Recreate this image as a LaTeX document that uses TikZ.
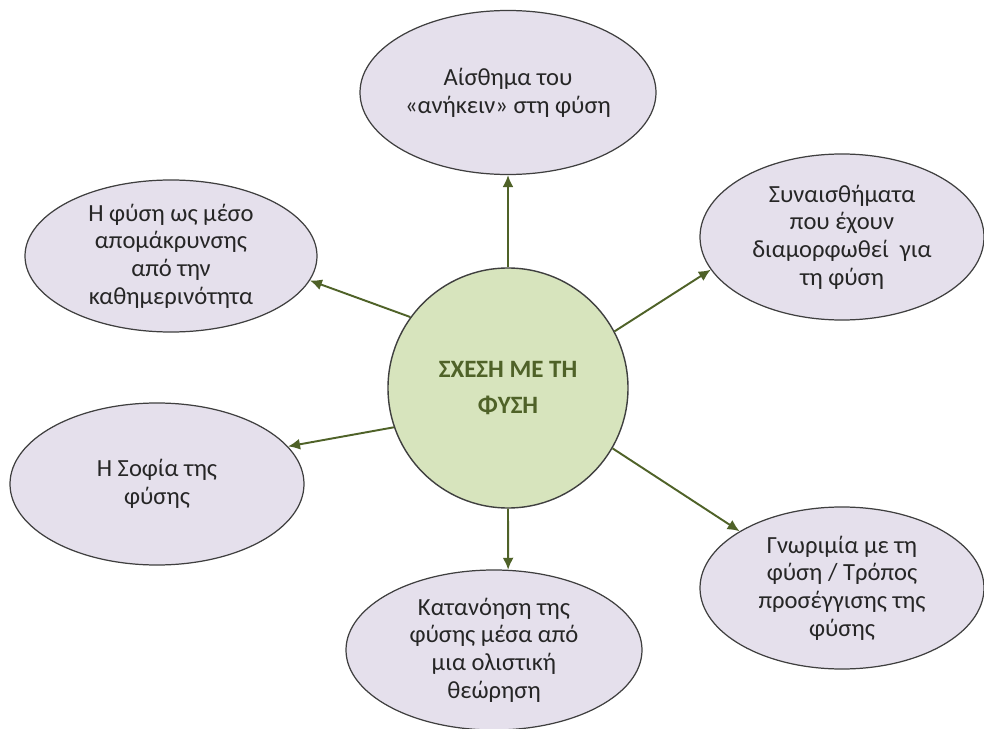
\documentclass[tikz,border=0pt]{standalone}
\usepackage{fontspec}
\setmainfont{Carlito}
\usepackage{xcolor}
\usetikzlibrary{shapes,arrows.meta}

\definecolor{leafgreen}{HTML}{D7E4BD}
\definecolor{darkolive}{HTML}{4F6228}
\definecolor{lavender}{HTML}{E5E0EC}
\definecolor{rimgray}{HTML}{3F3F3F}

\tikzset{
  topic/.style={ellipse, draw=rimgray, line width=0.7pt, fill=lavender, align=center,
    inner sep=0pt, font=\fontsize{14}{15.8}\selectfont, text=black!85},
  hub/.style={circle, draw=rimgray, line width=0.8pt, fill=leafgreen, minimum size=4.8cm,
    align=center, font=\fontsize{14.2}{21}\selectfont\bfseries, text=darkolive},
  link/.style={-{Latex[length=2.4mm,width=2.2mm]}, draw=darkolive, line width=1.1pt}
}

\begin{document}
\begin{tikzpicture}
    \useasboundingbox (0,0) rectangle (19.68,-14.58);

    \node [hub] (relation) at (10.16, -7.76) {ΣΧΕΣΗ ΜΕ ΤΗ\\ΦΥΣΗ};
    \node [topic, minimum width=5.92cm, minimum height=3.28cm] (belonging) at (10.16, -1.85) {Αίσθημα του\\«ανήκειν» στη φύση};
    \node [topic, minimum width=5.84cm, minimum height=3.04cm] (escape) at (3.42, -5.12) {Η φύση ως μέσο\\απομάκρυνσης\\από την\\καθημερινότητα};
    \node [topic, minimum width=5.68cm, minimum height=3.32cm] (emotions) at (16.84, -4.74) {Συναισθήματα\\που έχουν\\διαμορφωθεί~ για\\τη φύση};
    \node [topic, minimum width=5.88cm, minimum height=3.24cm] (wisdom) at (3.14, -9.68) {Η Σοφία της\\φύσης};
    \node [topic, minimum width=5.68cm, minimum height=3.24cm] (acquaintance) at (16.84, -11.76) {Γνωριμία με τη\\φύση / Τρόπος\\προσέγγισης της\\φύσης};
    \node [topic, minimum width=5.92cm, minimum height=3.2cm] (holistic) at (9.88, -13.0) {Κατανόηση της\\φύσης μέσα από\\μια ολιστική\\θεώρηση};

    \draw [link] (relation.90) -- (belonging.270);
    \draw [link] (relation.144) -- (escape.-10);
    \draw [link] (relation.28) -- (emotions.194);
    \draw [link] (relation.199) -- (wisdom.16);
    \draw [link] (relation.-30) -- (acquaintance.151);
    \draw [link] (relation.270) -- (holistic.80);
  \end{tikzpicture}
\end{document}
